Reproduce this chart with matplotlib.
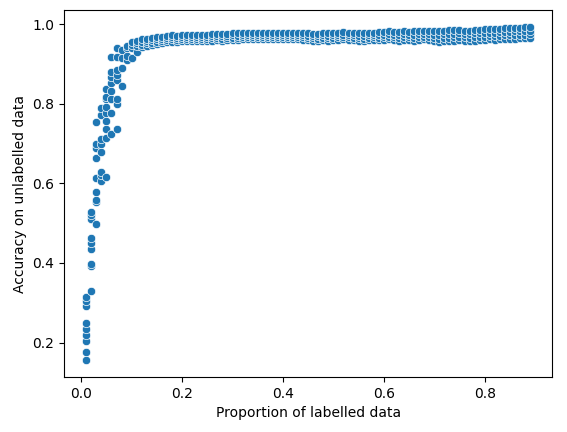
import matplotlib

matplotlib.use("Agg")
import matplotlib.pyplot as plt  # noqa: E402
import seaborn as sns  # noqa: E402

# accuracy per labelled proportion (several runs each)
acc_by_prop = {
    0.01: [0.155, 0.177, 0.204, 0.220, 0.235, 0.250, 0.291, 0.304, 0.314],
    0.02: [0.330, 0.392, 0.397, 0.436, 0.449, 0.462, 0.510, 0.520, 0.529],
    0.03: [0.499, 0.554, 0.558, 0.579, 0.614, 0.665, 0.688, 0.700, 0.755],
    0.04: [0.607, 0.622, 0.628, 0.678, 0.700, 0.711, 0.772, 0.789],
    0.05: [0.617, 0.713, 0.737, 0.757, 0.776, 0.793, 0.812, 0.818, 0.837],
    0.06: [0.723, 0.776, 0.812, 0.831, 0.852, 0.868, 0.881, 0.917],
    0.07: [0.737, 0.799, 0.812, 0.860, 0.872, 0.885, 0.917, 0.940],
    0.08: [0.846, 0.889, 0.914, 0.935],
    0.09: [0.910, 0.920, 0.940, 0.946],
    0.10: [0.915, 0.940, 0.948, 0.955],
    0.11: [0.930, 0.945, 0.952, 0.958],
    0.12: [0.942, 0.948, 0.955, 0.962],
    0.13: [0.945, 0.952, 0.958, 0.964],
    0.14: [0.948, 0.954, 0.960, 0.965],
    0.15: [0.950, 0.956, 0.962, 0.968],
    0.16: [0.952, 0.958, 0.963, 0.969],
    0.17: [0.955, 0.960, 0.965, 0.970],
    0.18: [0.956, 0.962, 0.967, 0.972],
    0.19: [0.955, 0.961, 0.966, 0.971],
    0.20: [0.958, 0.963, 0.968, 0.973],
    0.21: [0.957, 0.962, 0.967, 0.972],
    0.22: [0.958, 0.963, 0.968, 0.973],
    0.23: [0.958, 0.964, 0.969, 0.974],
    0.24: [0.959, 0.964, 0.969, 0.974],
    0.25: [0.958, 0.963, 0.968, 0.973],
    0.26: [0.959, 0.965, 0.970, 0.975],
    0.27: [0.960, 0.965, 0.970, 0.976],
    0.28: [0.958, 0.964, 0.970, 0.975],
    0.29: [0.960, 0.966, 0.971, 0.976],
    0.30: [0.961, 0.966, 0.972, 0.977],
    0.31: [0.960, 0.966, 0.971, 0.977],
    0.32: [0.962, 0.967, 0.972, 0.978],
    0.33: [0.962, 0.968, 0.973, 0.978],
    0.34: [0.963, 0.968, 0.974, 0.979],
    0.35: [0.964, 0.969, 0.974, 0.979],
    0.36: [0.963, 0.968, 0.973, 0.978],
    0.37: [0.964, 0.969, 0.974, 0.979],
    0.38: [0.963, 0.968, 0.974, 0.979],
    0.39: [0.964, 0.969, 0.974, 0.979],
    0.40: [0.963, 0.968, 0.973, 0.978],
    0.41: [0.962, 0.968, 0.973, 0.978],
    0.42: [0.963, 0.969, 0.974, 0.979],
    0.43: [0.962, 0.968, 0.973, 0.978],
    0.44: [0.961, 0.967, 0.972, 0.977],
    0.45: [0.960, 0.966, 0.971, 0.977],
    0.46: [0.959, 0.965, 0.971, 0.976],
    0.47: [0.958, 0.964, 0.970, 0.976],
    0.48: [0.960, 0.966, 0.972, 0.977],
    0.49: [0.959, 0.965, 0.971, 0.977],
    0.50: [0.960, 0.966, 0.972, 0.978],
    0.51: [0.961, 0.967, 0.973, 0.979],
    0.52: [0.962, 0.968, 0.974, 0.980],
    0.53: [0.961, 0.967, 0.973, 0.979],
    0.54: [0.960, 0.966, 0.972, 0.978],
    0.55: [0.959, 0.965, 0.971, 0.977],
    0.56: [0.958, 0.964, 0.971, 0.977],
    0.57: [0.960, 0.966, 0.972, 0.978],
    0.58: [0.961, 0.967, 0.973, 0.979],
    0.59: [0.960, 0.966, 0.973, 0.980],
    0.60: [0.961, 0.967, 0.974, 0.981],
    0.61: [0.962, 0.968, 0.975, 0.982],
    0.62: [0.960, 0.967, 0.974, 0.981],
    0.63: [0.959, 0.966, 0.973, 0.980],
    0.64: [0.961, 0.968, 0.975, 0.982],
    0.65: [0.960, 0.967, 0.974, 0.981],
    0.66: [0.959, 0.966, 0.974, 0.982],
    0.67: [0.961, 0.968, 0.975, 0.983],
    0.68: [0.962, 0.969, 0.976, 0.984],
    0.69: [0.961, 0.968, 0.976, 0.984],
    0.70: [0.957, 0.965, 0.974, 0.983],
    0.71: [0.956, 0.964, 0.973, 0.982],
    0.72: [0.958, 0.966, 0.975, 0.984],
    0.73: [0.957, 0.966, 0.975, 0.985],
    0.74: [0.959, 0.967, 0.976, 0.985],
    0.75: [0.960, 0.968, 0.977, 0.985],
    0.76: [0.958, 0.967, 0.976, 0.984],
    0.77: [0.957, 0.966, 0.975, 0.984],
    0.78: [0.959, 0.968, 0.977, 0.986],
    0.79: [0.960, 0.969, 0.978, 0.986],
    0.80: [0.961, 0.969, 0.978, 0.987],
    0.81: [0.962, 0.970, 0.979, 0.988],
    0.82: [0.961, 0.970, 0.979, 0.988],
    0.83: [0.963, 0.971, 0.980, 0.989],
    0.84: [0.964, 0.972, 0.981, 0.990],
    0.85: [0.963, 0.972, 0.981, 0.990],
    0.86: [0.964, 0.973, 0.982, 0.991],
    0.87: [0.965, 0.973, 0.982, 0.991],
    0.88: [0.966, 0.974, 0.983, 0.992],
    0.89: [0.966, 0.975, 0.984, 0.994],
}

props = [p for p, ys in acc_by_prop.items() for _ in ys]
accs = [y for ys in acc_by_prop.values() for y in ys]

fig, ax = plt.subplots(figsize=(5.67, 4.32), dpi=100)
sns.scatterplot(x=props, y=accs, ax=ax)
ax.set_xlabel("Proportion of labelled data")
ax.set_ylabel("Accuracy on unlabelled data")
ax.set_xticks([0.0, 0.2, 0.4, 0.6, 0.8])
ax.set_yticks([0.2, 0.4, 0.6, 0.8, 1.0])
fig.subplots_adjust(left=0.113, right=0.974, top=0.977, bottom=0.127)
fig.savefig("out.png")
